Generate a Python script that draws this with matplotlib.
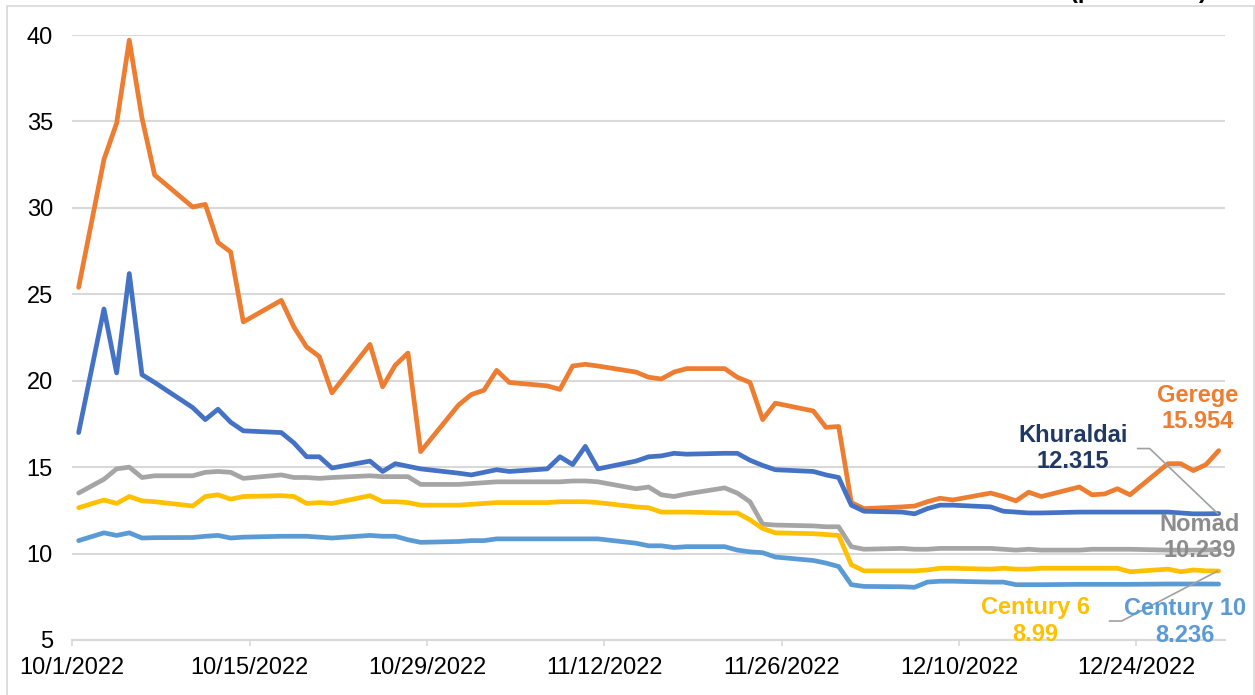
import matplotlib
matplotlib.use("Agg")
import matplotlib.pyplot as plt
import matplotlib.dates as mdates
from matplotlib.patches import Rectangle
import numpy as np
import pandas as pd

plt.rcParams['font.family'] = ['Liberation Sans', 'DejaVu Sans']

# ---------------- data ----------------
dates = ['2022-10-01',
         '2022-10-03', '2022-10-04', '2022-10-05', '2022-10-06', '2022-10-07',
         '2022-10-10', '2022-10-11', '2022-10-12', '2022-10-13', '2022-10-14',
         '2022-10-17', '2022-10-18', '2022-10-19', '2022-10-20', '2022-10-21',
         '2022-10-24', '2022-10-25', '2022-10-26', '2022-10-27', '2022-10-28',
         '2022-10-31', '2022-11-01', '2022-11-02', '2022-11-03', '2022-11-04',
         '2022-11-07', '2022-11-08', '2022-11-09', '2022-11-10', '2022-11-11',
         '2022-11-14', '2022-11-15', '2022-11-16', '2022-11-17', '2022-11-18',
         '2022-11-21', '2022-11-22', '2022-11-23', '2022-11-24', '2022-11-25',
         '2022-11-28', '2022-11-29', '2022-11-30', '2022-12-01', '2022-12-02',
         '2022-12-05', '2022-12-06', '2022-12-07', '2022-12-08', '2022-12-09',
         '2022-12-12', '2022-12-13', '2022-12-14', '2022-12-15', '2022-12-16',
         '2022-12-19', '2022-12-20', '2022-12-21', '2022-12-22', '2022-12-23',
         '2022-12-26', '2022-12-27', '2022-12-28', '2022-12-29', '2022-12-30']

gerege = [25.4, 32.8, 34.9, 39.7, 35.2, 31.9, 30.05, 30.2, 28.0, 27.45,
          23.4, 24.65, 23.1, 21.95, 21.4, 19.3, 22.1, 19.65, 20.9, 21.6,
          15.9, 18.6, 19.2, 19.45, 20.6, 19.9, 19.7, 19.5, 20.85, 20.95,
          20.85, 20.5, 20.2, 20.1, 20.5, 20.7, 20.7, 20.2, 19.9, 17.75,
          18.7, 18.25, 17.3, 17.35, 12.95, 12.6, 12.7, 12.75, 13.0, 13.2,
          13.1, 13.5, 13.3, 13.05, 13.55, 13.3, 13.85, 13.4, 13.45, 13.75,
          13.4, 15.2, 15.2, 14.8, 15.15, 15.954]

khuraldai = [17.0, 24.15, 20.45, 26.2, 20.35, 19.9, 18.45, 17.75, 18.35, 17.6,
             17.1, 17.0, 16.4, 15.6, 15.6, 14.95, 15.35, 14.75, 15.2, 15.05,
             14.9, 14.65, 14.55, 14.7, 14.85, 14.75, 14.9, 15.6, 15.15, 16.2,
             14.9, 15.35, 15.6, 15.65, 15.8, 15.75, 15.8, 15.8, 15.4, 15.1,
             14.85, 14.75, 14.55, 14.4, 12.8, 12.45, 12.4, 12.3, 12.6, 12.8,
             12.8, 12.7, 12.45, 12.4, 12.35, 12.35, 12.4, 12.4, 12.4, 12.4,
             12.4, 12.4, 12.35, 12.3, 12.3, 12.315]

nomad = [13.5, 14.3, 14.9, 15.0, 14.4, 14.5, 14.5, 14.7, 14.75, 14.7,
         14.35, 14.55, 14.4, 14.4, 14.35, 14.4, 14.5, 14.45, 14.45, 14.45,
         14.0, 14.0, 14.05, 14.1, 14.15, 14.15, 14.15, 14.15, 14.2, 14.2,
         14.15, 13.75, 13.85, 13.4, 13.3, 13.45, 13.8, 13.5, 13.0, 11.7,
         11.65, 11.6, 11.55, 11.55, 10.4, 10.25, 10.3, 10.25, 10.25, 10.3,
         10.3, 10.3, 10.25, 10.2, 10.25, 10.2, 10.2, 10.25, 10.25, 10.25,
         10.25, 10.2, 10.2, 10.2, 10.2, 10.239]

century6 = [12.65, 13.1, 12.9, 13.3, 13.05, 13.0, 12.75, 13.3, 13.4, 13.15,
            13.3, 13.35, 13.3, 12.9, 12.95, 12.9, 13.35, 13.0, 13.0, 12.95,
            12.8, 12.8, 12.85, 12.9, 12.95, 12.95, 12.95, 13.0, 13.0, 13.0,
            12.95, 12.7, 12.65, 12.4, 12.4, 12.4, 12.35, 12.35, 11.95, 11.45,
            11.2, 11.15, 11.1, 11.05, 9.35, 9.0, 9.0, 9.0, 9.05, 9.15,
            9.15, 9.1, 9.15, 9.1, 9.1, 9.15, 9.15, 9.15, 9.15, 9.15,
            8.95, 9.1, 8.95, 9.05, 9.0, 8.99]

century10 = [10.75, 11.2, 11.05, 11.2, 10.9, 10.92, 10.93, 11.0, 11.05, 10.9,
             10.95, 11.0, 11.0, 11.0, 10.95, 10.9, 11.05, 11.0, 11.0, 10.8,
             10.65, 10.7, 10.75, 10.75, 10.85, 10.85, 10.85, 10.85, 10.85, 10.85,
             10.85, 10.6, 10.45, 10.45, 10.35, 10.4, 10.4, 10.2, 10.1, 10.05,
             9.8, 9.6, 9.45, 9.25, 8.2, 8.1, 8.08, 8.05, 8.35, 8.4,
             8.4, 8.35, 8.35, 8.2, 8.2, 8.2, 8.22, 8.22, 8.22, 8.22,
             8.22, 8.24, 8.24, 8.24, 8.24, 8.236]

series_names = ['Gerege', 'Khuraldai', 'Nomad', 'Century 6', 'Century 10']
series_values = [gerege, khuraldai, nomad, century6, century10]
line_colors = ['#ED7D31', '#4472C4', '#A5A5A5', '#FFC000', '#5B9BD5']
label_colors = ['#ED7D31', '#203864', '#8C8C8C', '#FFC000', '#5B9BD5']

tick_dates = ['2022-10-01', '2022-10-15', '2022-10-29', '2022-11-12',
              '2022-11-26', '2022-12-10', '2022-12-24']
tick_labels = ['10/1/2022', '10/15/2022', '10/29/2022', '11/12/2022',
               '11/26/2022', '12/10/2022', '12/24/2022']
y_ticks = [5, 10, 15, 20, 25, 30, 35, 40]
title_text = '(per annum)'

# ---------------- figure ----------------
W, H = 1255, 695
fig = plt.figure(figsize=(W / 100, H / 100), dpi=100)
ax = fig.add_axes([72.3 / W, 1 - 640 / H, (1225 - 72.3) / W, 605 / H])

x = mdates.date2num(pd.to_datetime(dates) + pd.Timedelta(hours=12))

for vals, col in zip(series_values, line_colors):
    ax.plot(x, vals, color=col, lw=3.4, solid_joinstyle='round',
            solid_capstyle='round', clip_on=False, zorder=3)

ax.set_xlim(mdates.date2num(pd.Timestamp('2022-10-01')),
            mdates.date2num(pd.Timestamp('2022-12-31')))
ax.set_ylim(5, 40)

ax.set_yticks(y_ticks)
ax.set_yticklabels([str(v) for v in y_ticks])
ax.set_xticks(mdates.date2num(pd.to_datetime(tick_dates)))
ax.set_xticklabels(tick_labels)

ax.yaxis.grid(True, color='#D9D9D9', lw=1.5)
ax.set_axisbelow(True)
for s in ['top', 'right', 'left']:
    ax.spines[s].set_visible(False)
ax.spines['bottom'].set_color('#D9D9D9')
ax.spines['bottom'].set_linewidth(1.5)
ax.tick_params(axis='y', length=0, pad=14, labelsize=17, labelcolor='black')
ax.tick_params(axis='x', length=4.5, width=1.2, color='#D9D9D9', pad=8,
               labelsize=17, labelcolor='black')

# chart border
fig.add_artist(Rectangle((7 / W, -0.1), (1254 - 7) / W, 1.1 - 6 / H,
                         transform=fig.transFigure, fill=False,
                         edgecolor='#D9D9D9', lw=1.2))

# clipped title at the very top (cut off in the reference as well)
fig.text((1072 + 1205) / 2 / W, 1 + 2 / H, title_text, ha='center',
         va='baseline', fontsize=17, fontweight='bold', color='black')

# end labels (offsets in pixels from the last point)
label_offsets = [(-21, 42), (-146, 65), (-19, 12), (-183, -50), (-34, -38)]
for name, vals, col, off in zip(series_names, series_values, label_colors,
                                label_offsets):
    ax.annotate(f"{name}\n{vals[-1]:g}", xy=(x[-1], vals[-1]), xytext=off,
                textcoords='offset pixels', ha='center', va='center',
                fontsize=17, fontweight='bold', color=col, linespacing=1.2,
                annotation_clip=False, zorder=5)

# leader lines
fig.canvas.draw()
def leader(yval, offs):
    base = ax.transData.transform((x[-1], yval))
    pts = np.array([base + np.array(o) for o in offs])
    data = ax.transData.inverted().transform(pts)
    ax.plot(data[:, 0], data[:, 1], color='#A0A0A0', lw=1.2, clip_on=False,
            zorder=4)

leader(khuraldai[-1], [(-81, 65), (-69, 65), (-1, 0)])
leader(century6[-1], [(-109, -50), (-97, -50), (-1, 0)])

fig.savefig('out.png', dpi=100)
